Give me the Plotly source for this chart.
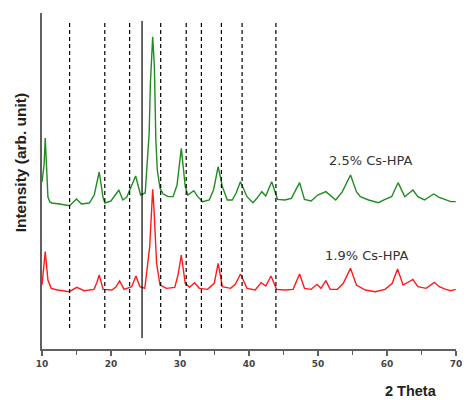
import plotly.graph_objects as go

# 2.5% Cs-HPA (green) pattern
theta_25 = [10.0, 10.3, 10.47, 10.86, 11.14, 11.43, 12.57, 14.0, 15.0, 15.71, 16.86, 17.57, 18.29, 18.86, 19.14,
            20.0, 21.14, 21.71, 22.29, 23.57, 24.29, 24.96, 25.53, 25.71, 26.04, 26.29, 26.5, 26.71, 27.1, 27.57,
            28.29, 29.0, 29.57, 30.19, 30.76, 31.14, 32.0, 32.57, 33.29, 34.24, 34.86, 35.53, 36.14, 36.86, 37.57,
            38.14, 38.76, 39.71, 40.57, 41.14, 41.86, 42.43, 43.29, 44.14, 45.19, 46.14, 47.33, 48.04, 49.0, 49.96,
            51.14, 52.57, 53.53, 54.71, 55.57, 56.14, 57.33, 58.76, 59.71, 60.67, 61.61, 62.57, 63.76, 64.47, 65.43,
            66.76, 67.57, 68.53, 69.24, 69.96]
int_25 = [501, 552, 633, 456, 441, 438, 435, 430, 450, 435, 438, 462, 531, 453, 438,
          444, 477, 447, 456, 519, 462, 468, 648, 798, 937, 846, 627, 537, 483, 465,
          457, 457, 492, 602, 487, 462, 475, 457, 442, 447, 477, 547, 487, 447, 447,
          468, 502, 457, 439, 452, 472, 459, 502, 449, 447, 452, 499, 449, 444, 462,
          472, 447, 472, 522, 472, 457, 447, 439, 449, 457, 499, 457, 477, 457, 447,
          465, 455, 447, 442, 442]

# 1.9% Cs-HPA (red) pattern
theta_19 = [10.0, 10.21, 10.47, 10.86, 11.33, 12.29, 13.96, 15.04, 16.1, 17.53, 17.93, 18.29, 18.86, 20.14, 20.71,
            21.24, 21.9, 23.0, 23.61, 24.19, 24.9, 25.61, 25.79, 26.04, 26.21, 26.61, 27.1, 28.04, 29.24, 29.71,
            30.19, 30.76, 31.39, 32.1, 32.81, 34.0, 34.96, 35.53, 36.14, 37.33, 38.04, 38.76, 39.71, 40.9, 41.76,
            42.43, 43.19, 44.0, 45.19, 46.39, 47.33, 48.04, 49.0, 49.86, 50.43, 51.14, 51.76, 52.81, 53.67, 54.71,
            55.57, 56.86, 58.29, 59.71, 60.76, 61.53, 62.33, 63.76, 64.47, 65.67, 66.86, 67.57, 68.53, 69.24, 69.96]
int_19 = [192, 237, 292, 207, 182, 177, 172, 185, 175, 179, 198, 222, 179, 177, 186,
          204, 179, 187, 219, 187, 182, 307, 402, 479, 427, 257, 192, 182, 185, 222,
          282, 197, 185, 199, 182, 179, 197, 257, 187, 182, 195, 225, 182, 177, 199,
          189, 219, 179, 177, 179, 225, 182, 179, 194, 182, 205, 179, 179, 197, 242,
          192, 177, 172, 179, 197, 240, 192, 209, 187, 182, 200, 187, 179, 175, 179]

dashed_positions = [14.0, 19.1, 22.7, 27.2, 30.9, 33.1, 36.0, 39.0, 43.9]
solid_positions = [24.5]
x_ticks = [10, 20, 30, 40, 50, 60, 70]
series_labels = ["2.5% Cs-HPA", "1.9% Cs-HPA"]

fig = go.Figure()
fig.add_trace(go.Scatter(x=theta_25, y=int_25, mode="lines", line=dict(color="#1e8c1e", width=1.4),
                         name=series_labels[0], showlegend=False))
fig.add_trace(go.Scatter(x=theta_19, y=int_19, mode="lines", line=dict(color="#ff1a1a", width=1.4),
                         name=series_labels[1], showlegend=False))

shapes = []
for p in dashed_positions:
    shapes.append(dict(type="line", xref="x", yref="y", x0=p, x1=p, y0=63, y1=984,
                       line=dict(color="black", width=1.2, dash="4px,3px")))
for p in solid_positions:
    shapes.append(dict(type="line", xref="x", yref="y", x0=p, x1=p, y0=33, y1=984,
                       line=dict(color="black", width=1.2)))

fig.update_layout(
    width=469, height=400,
    margin=dict(l=42, r=7, t=13, b=51),
    paper_bgcolor="white", plot_bgcolor="white",
    shapes=shapes,
    xaxis=dict(range=[10, 70], tickvals=x_ticks, ticks="outside", ticklen=5, tickwidth=1.5,
               tickcolor="#606060", showline=True, linecolor="#606060", linewidth=1.5,
               showgrid=False, zeroline=False,
               minor=dict(dtick=5, ticks="outside", ticklen=4, tickwidth=1.2, tickcolor="#606060"),
               tickfont=dict(family="DejaVu Sans", size=9, color="#444444", weight="bold")),
    yaxis=dict(range=[0, 1008], showline=True, linecolor="#606060", linewidth=2,
               showticklabels=False, ticks="", showgrid=False, zeroline=False),
    annotations=[
        dict(text="<b>2 Theta</b>", xref="paper", yref="paper", x=0.891, y=-0.125,
             xanchor="center", yanchor="middle",
             showarrow=False, font=dict(family="Liberation Sans", size=14.5, color="#222222")),
        dict(text="<b>Intensity (arb. unit)</b>", xref="paper", yref="paper", x=-0.052, y=0.557,
             xanchor="center", yanchor="middle",
             textangle=-90, showarrow=False, font=dict(family="Liberation Sans", size=15.5, color="#222222")),
        dict(text=series_labels[0], xref="x", yref="y", x=57.6, y=567, showarrow=False,
             font=dict(family="DejaVu Sans", size=13, color="#333333")),
        dict(text=series_labels[1], xref="x", yref="y", x=57.1, y=282, showarrow=False,
             font=dict(family="DejaVu Sans", size=13, color="#333333")),
    ],
)

fig.write_html("out.html", config={"displayModeBar": False},
               post_script="document.body.style.margin='0';")
